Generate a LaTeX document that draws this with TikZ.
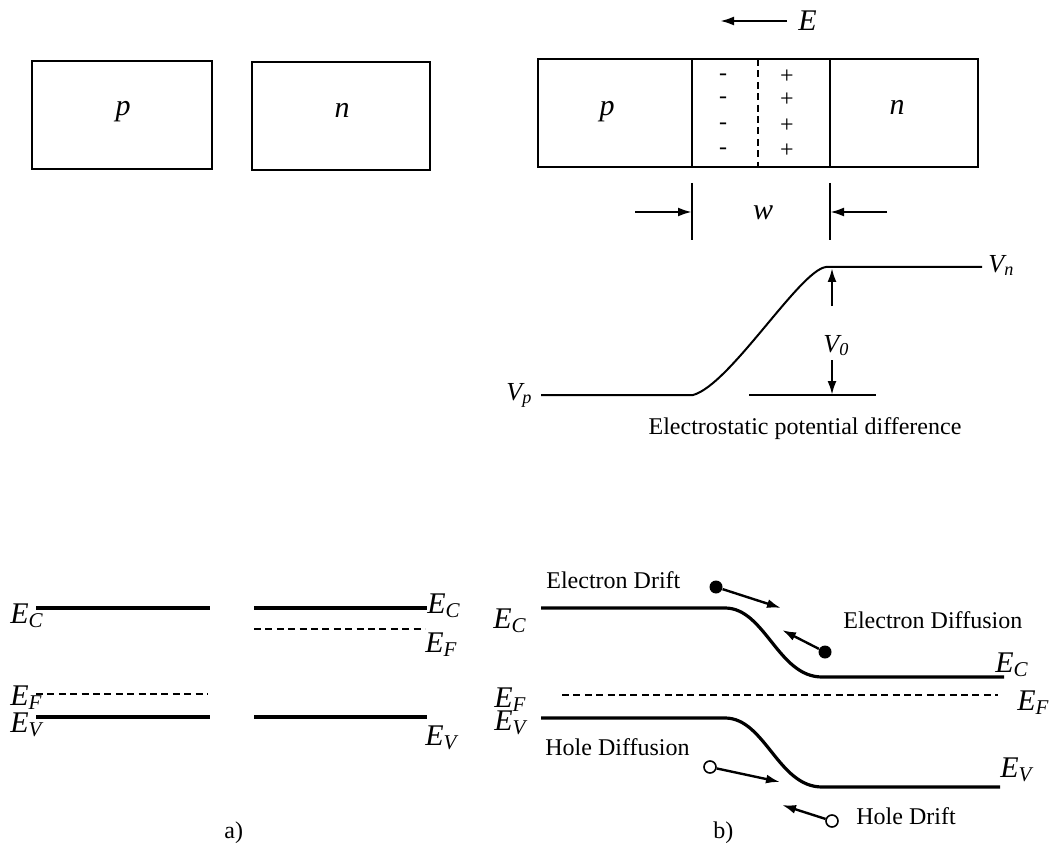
\documentclass[tikz,border=0pt]{standalone}
\usepackage{fontspec}
\setmainfont{Liberation Serif}
\usetikzlibrary{arrows.meta}
\tikzset{
  box/.style={draw,line width=0.8pt,inner sep=0pt},
  band/.style={line width=1.6pt},
  fermi/.style={line width=0.9pt,dash pattern=on 3.5pt off 2.2pt},
  pot/.style={line width=1pt},
  arr/.style={line width=1.2pt,-{Latex[length=7pt,width=4.5pt]}},
  lbl/.style={font=\fontsize{15}{17}\selectfont\itshape,inner sep=0pt},
  vlbl/.style={font=\fontsize{13}{15}\selectfont\itshape,inner sep=0pt},
  txt/.style={font=\fontsize{12}{14}\selectfont,inner sep=0pt},
  chg/.style={font=\fontsize{12}{14}\selectfont,inner sep=0pt},
  elec/.style={fill,circle,inner sep=0pt,minimum size=6.5pt},
  hole/.style={draw,circle,line width=0.8pt,inner sep=0pt,minimum size=6pt,fill=white}
}
\newcommand{\lv}[2]{#1\textsubscript{#2}}
\begin{document}
\begin{tikzpicture}[x=0.5pt,y=-0.5pt]
\useasboundingbox (0,0) rectangle (1049,850);
% separate p and n
\node[box,minimum width=90pt,minimum height=54pt] (pa) at (122,115) {};
\node[box,minimum width=89pt,minimum height=54pt] (na) at (341,116) {};
\node[lbl] (pal) at (123,112) {p};
\node[lbl] (nal) at (342,110) {n};
% junction
\node[box,minimum width=77pt,minimum height=54pt] (pb) at (615,113) {};
\node[box,minimum width=69pt,minimum height=54pt] (dep) at (761,113) {};
\node[box,minimum width=74pt,minimum height=54pt] (nb) at (904,113) {};
\node[lbl] (pbl) at (607,112) {p};
\node[lbl] (nbl) at (897,107) {n};
\draw[fermi] (758,59) -- (758,167);
\foreach \y in {77,100,126,151} {
  \node[chg] (m\y) at (723,\y) {-};
  \node[chg] (q\y) at (787,\y) {+};
}
\node[lbl,anchor=west] (Elab) at (798,21) {E};
\coordinate (Etip) at (720,21);
\draw[arr] ([xshift=-5.5pt]Elab.west) -- (Etip);
% width w
\coordinate (wl1) at (692,183); \coordinate (wl2) at (692,240);
\coordinate (wr1) at (830,183); \coordinate (wr2) at (830,240);
\draw[pot] (wl1) -- (wl2);
\draw[pot] (wr1) -- (wr2);
\coordinate (wa) at (635,212); \coordinate (wb) at (887,212);
\draw[arr] (wa) -- (692,212);
\draw[arr] (wb) -- (830,212);
\node[lbl] (wlab) at (763,213) {w};
% potential
\coordinate (vp0) at (541,395); \coordinate (vp1) at (693,395);
\coordinate (vn0) at (826,267); \coordinate (vn1) at (982,267);
\draw[pot] (vp0) -- (vp1) .. controls (730,385) and (800,270) .. (vn0) -- (vn1);
\draw[pot] (749,395) -- (876,395);
\node[vlbl,anchor=base west] (vplab) at (506,400) {\lv{V}{p}};
\node[vlbl,anchor=base west] (vnlab) at (988,272) {\lv{V}{n}};
\node[vlbl,anchor=base west] (v0lab) at (823,352) {\lv{V}{0}};
\draw[arr] (832,306) -- (832,268);
\draw[arr] (832,360) -- (832,395);
\node[txt] (estat) at (805,429) {Electrostatic potential difference};
% bands, separate
\draw[band] (36,608) -- (210,608);
\draw[band] (254,608) -- (427,608);
\draw[fermi] (254,629) -- (425,629);
\draw[fermi] (36,694) -- (208,694);
\draw[band] (36,717) -- (210,717);
\draw[band] (254,717) -- (427,717);
\node[lbl,anchor=base west] (ec1) at (10,623) {\lv{E}{C}};
\node[lbl,anchor=base west] (ec2) at (427,613) {\lv{E}{C}};
\node[lbl,anchor=base west] (ef2) at (425,652) {\lv{E}{F}};
\node[lbl,anchor=base west] (ef1) at (10,705) {\lv{E}{F}};
\node[lbl,anchor=base west] (ev1) at (10,732) {\lv{E}{V}};
\node[lbl,anchor=base west] (ev2) at (425,745) {\lv{E}{V}};
\node[txt,anchor=base west] (la) at (224,838) {a)};
% bands, junction
\draw[band] (541,608) -- (725,608) .. controls (765,608) and (778,677) .. (822,677) -- (1004,677);
\draw[fermi] (562,695) -- (998,695);
\draw[band] (541,718) -- (725,718) .. controls (765,718) and (778,787) .. (822,787) -- (1000,787);
\node[lbl,anchor=base west] (ec3) at (493,628) {\lv{E}{C}};
\node[lbl,anchor=base west] (ef3) at (494,707) {\lv{E}{F}};
\node[lbl,anchor=base west] (ev3) at (494,730) {\lv{E}{V}};
\node[lbl,anchor=base west] (ec4) at (995,672) {\lv{E}{C}};
\node[lbl,anchor=base west] (ef4) at (1017,710) {\lv{E}{F}};
\node[lbl,anchor=base west] (ev4) at (1000,777) {\lv{E}{V}};
% carriers
\node[elec] (edr) at (716,587) {};
\node[elec] (edf) at (825,652) {};
\node[hole] (hdf) at (710,767) {};
\node[hole] (hdr) at (832,821) {};
\coordinate (edrt) at (781,608);
\coordinate (edft) at (782,630);
\coordinate (hdft) at (780,782);
\coordinate (hdrt) at (782,805);
\draw[arr] (edr) -- (edrt);
\draw[arr] (edf) -- (edft);
\draw[arr] (hdf) -- (hdft);
\draw[arr] (hdr) -- (hdrt);
\node[txt,anchor=base west] (tedr) at (546,588) {Electron Drift};
\node[txt,anchor=base west] (tedf) at (843,628) {Electron Diffusion};
\node[txt,anchor=base west] (thdf) at (545,755) {Hole Diffusion};
\node[txt,anchor=base west] (thdr) at (856,824) {Hole Drift};
\node[txt,anchor=base west] (lb) at (713,838) {b)};
\end{tikzpicture}
\end{document}
